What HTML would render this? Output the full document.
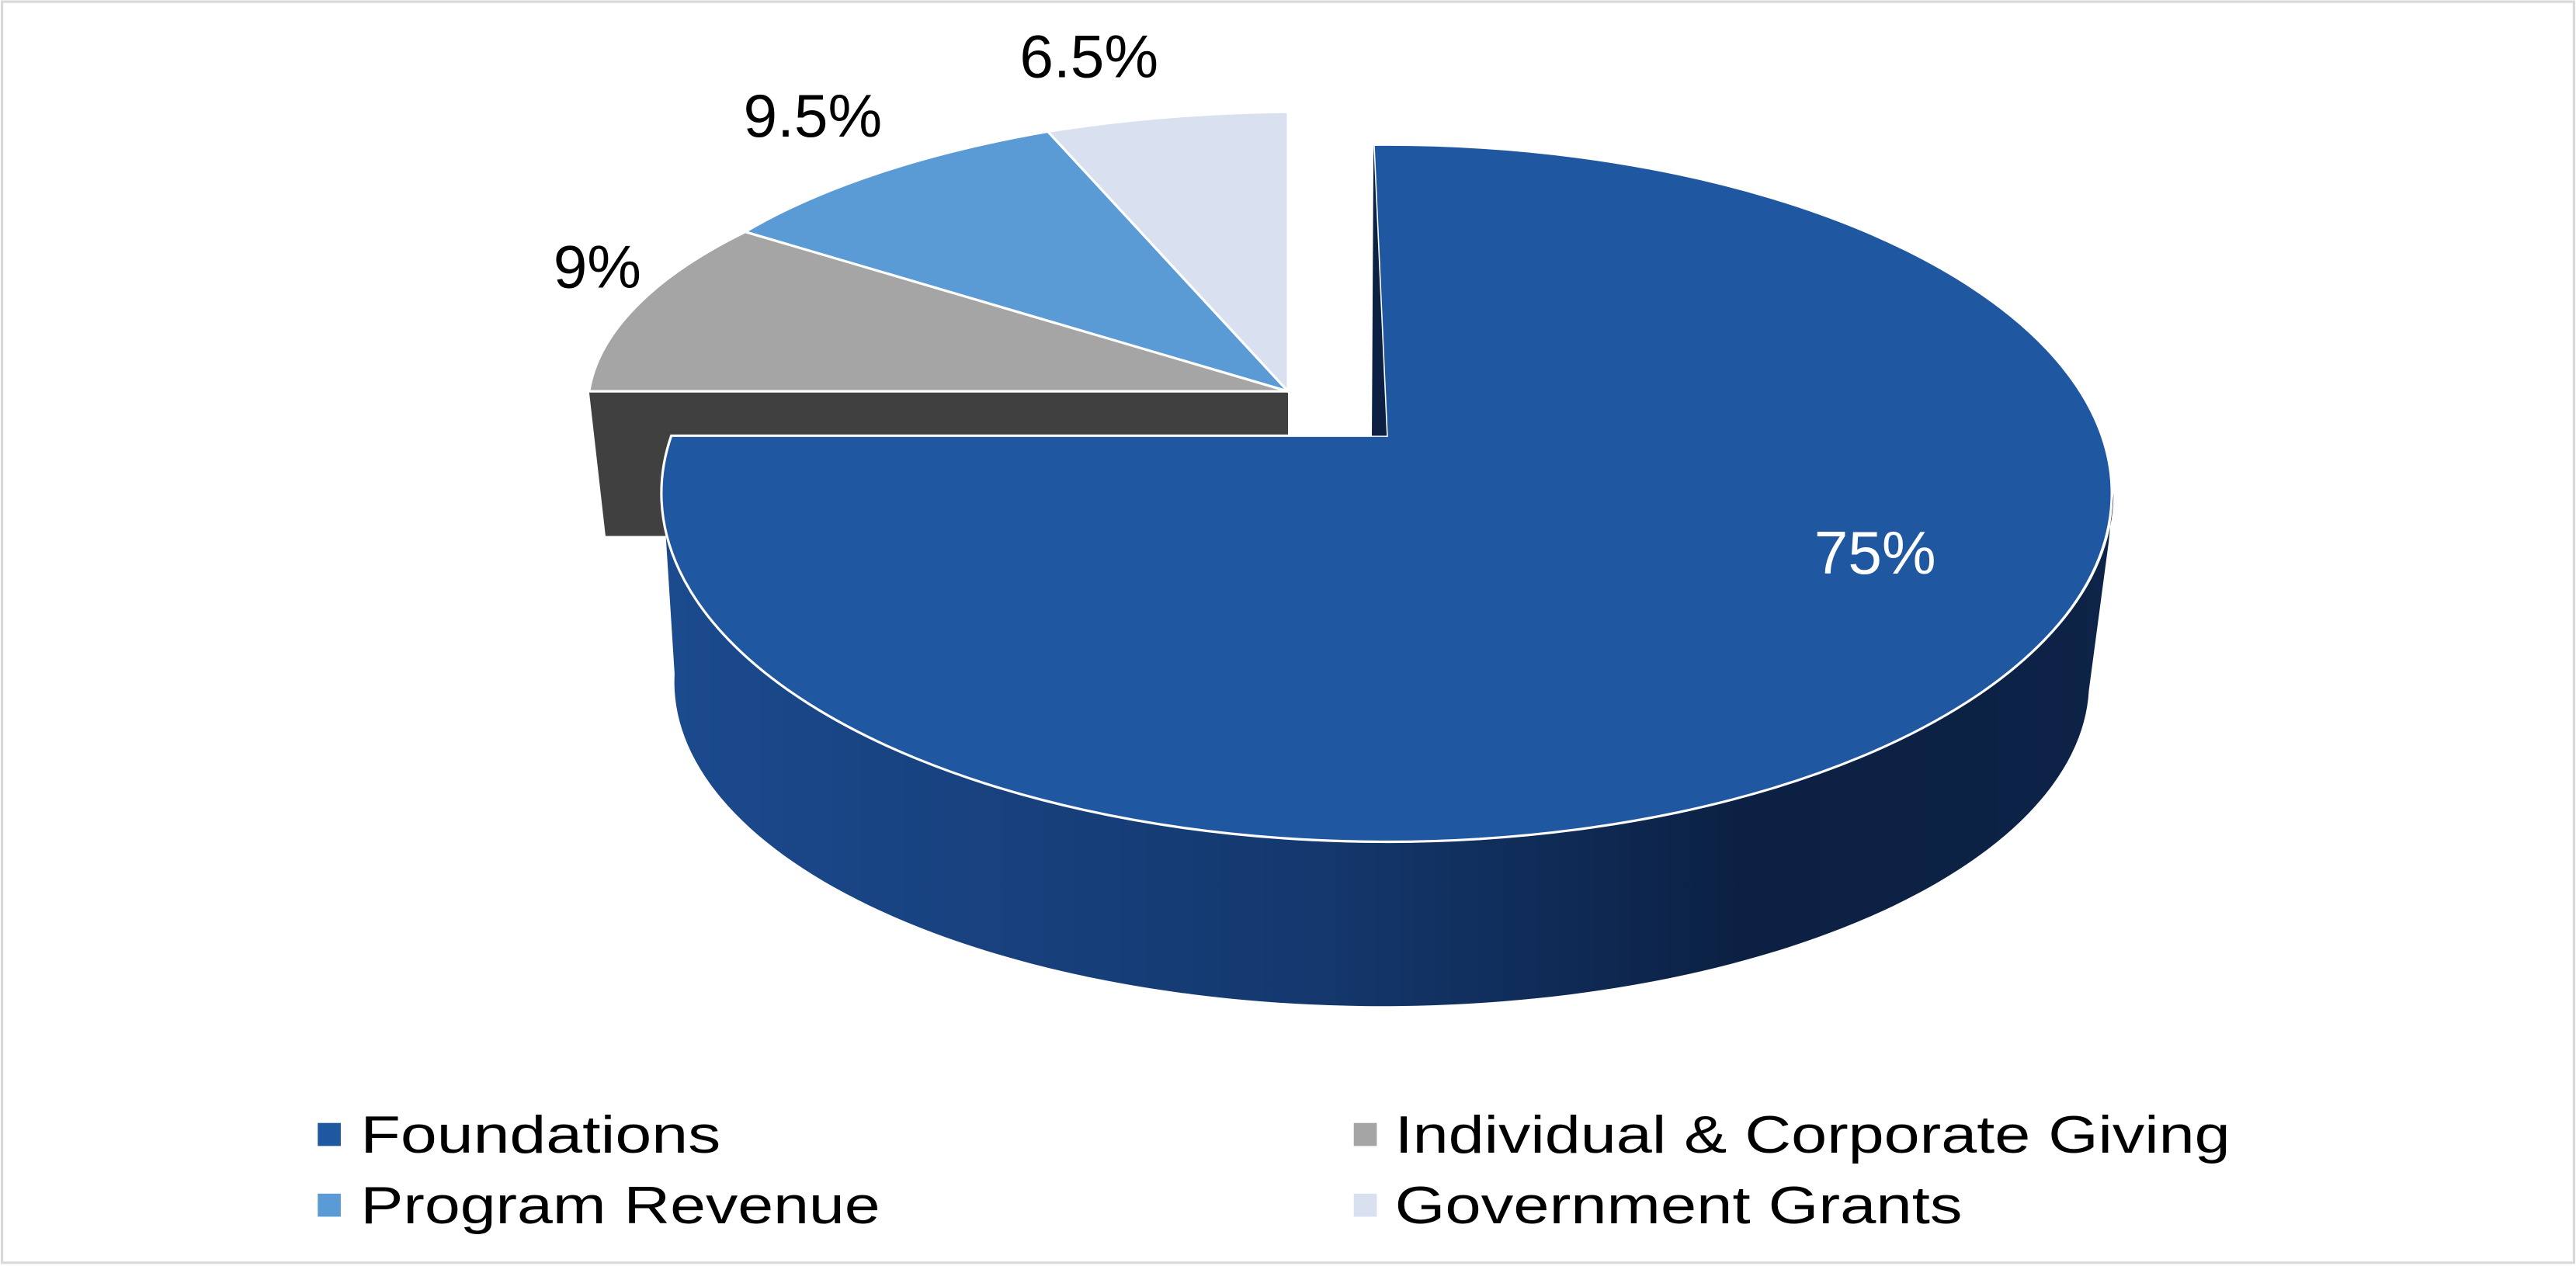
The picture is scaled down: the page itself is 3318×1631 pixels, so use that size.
<!DOCTYPE html>
<html><head><meta charset="utf-8"><style>html,body{margin:0;padding:0;background:#fff}svg{display:block}</style></head>
<body>
<svg width="3318" height="1631" viewBox="0 0 1566 770" xmlns="http://www.w3.org/2000/svg" font-family="Liberation Sans, sans-serif">
<defs>
<linearGradient id="side" x1="0" x2="1" y1="0" y2="0">
<stop offset="0" stop-color="#1b4a8e"/>
<stop offset="0.45" stop-color="#14386e"/>
<stop offset="0.75" stop-color="#0b2042"/>
<stop offset="1" stop-color="#0d2347"/>
</linearGradient>
</defs>
<rect x="1" y="1" width="1564" height="767" fill="#fff" stroke="#d9d9d9" stroke-width="1.5"/>
<polygon points="358,238 783,238 783,265 408,265 405,326 368,326" fill="#404040"/>
<path d="M403,300 A441,212 0 0 0 1285,300 L1282,330 L1270,420 A430,197 0 0 1 410,410 Z" fill="url(#side)"/>
<path d="M843,265 L835,88 A441,212 0 1 1 408,265 Z" fill="#1f57a0" stroke="#fff" stroke-width="1.5"/>
<polygon points="835,88 843,265 834,265" fill="#0b2042"/>
<path d="M783,238 L358,238 A425,170 0 0 1 453,141 Z" fill="#a5a5a5" stroke="#fff" stroke-width="1.5"/>
<path d="M783,238 L453,141 A425,170 0 0 1 637,80 Z" fill="#5b9bd5" stroke="#fff" stroke-width="1.5"/>
<path d="M783,238 L637,80 A425,170 0 0 1 783,68 Z" fill="#d9e0ef" stroke="#fff" stroke-width="1.5"/>
<text x="1140" y="349" font-size="37" fill="#fff" text-anchor="middle">75%</text>
<text x="363" y="175" font-size="37" fill="#000" text-anchor="middle">9%</text>
<text x="494" y="83" font-size="37" fill="#000" text-anchor="middle">9.5%</text>
<text x="662" y="47" font-size="37" fill="#000" text-anchor="middle">6.5%</text>
<rect x="193" y="683" width="14" height="14" fill="#1f57a0"/>
<text x="219" y="701" font-size="32" textLength="219" lengthAdjust="spacingAndGlyphs">Foundations</text>
<rect x="823" y="683" width="14" height="14" fill="#a5a5a5"/>
<text x="848" y="701" font-size="32" textLength="508" lengthAdjust="spacingAndGlyphs">Individual &amp; Corporate Giving</text>
<rect x="193" y="726" width="14" height="14" fill="#5b9bd5"/>
<text x="219" y="744" font-size="32" textLength="316" lengthAdjust="spacingAndGlyphs">Program Revenue</text>
<rect x="823" y="726" width="14" height="14" fill="#d9e0ef"/>
<text x="848" y="744" font-size="32" textLength="345" lengthAdjust="spacingAndGlyphs">Government Grants</text>
</svg>
</body></html>
